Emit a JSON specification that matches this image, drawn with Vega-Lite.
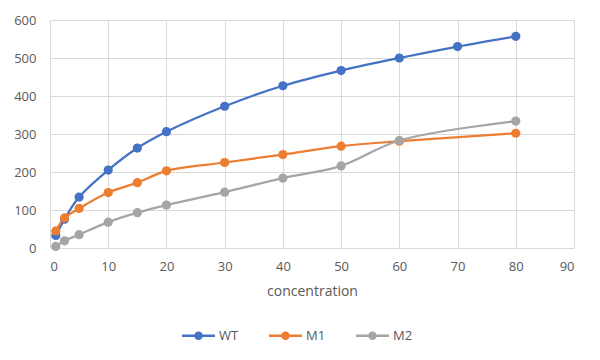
{
  "$schema": "https://vega.github.io/schema/vega-lite/v6.json",
  "width": 524,
  "height": 228,
  "autosize": {"type": "none"},
  "padding": {"left": 50, "top": 20, "right": 26, "bottom": 112},
  "background": "white",
  "config": {
    "view": {"stroke": null},
    "font": "Open Sans",
    "axis": {"labelFont": "Open Sans", "labelFontSize": 13, "labelColor": "#595959", "titleFont": "Open Sans", "titleFontSize": 14, "titleColor": "#595959", "titleFontWeight": "normal", "gridColor": "#D9D9D9", "gridWidth": 1, "domain": false, "ticks": false}
  },
  "data": {
    "values": [
      {"series": "WT", "conc": 1, "value": 33},
      {"series": "WT", "conc": 2.5, "value": 76},
      {"series": "WT", "conc": 5, "value": 134},
      {"series": "WT", "conc": 10, "value": 205},
      {"series": "WT", "conc": 15, "value": 263},
      {"series": "WT", "conc": 20, "value": 306},
      {"series": "WT", "conc": 30, "value": 373},
      {"series": "WT", "conc": 40, "value": 427},
      {"series": "WT", "conc": 50, "value": 467},
      {"series": "WT", "conc": 60, "value": 500},
      {"series": "WT", "conc": 70, "value": 530},
      {"series": "WT", "conc": 80, "value": 557},
      {"series": "M1", "conc": 1, "value": 45},
      {"series": "M1", "conc": 2.5, "value": 79},
      {"series": "M1", "conc": 5, "value": 104},
      {"series": "M1", "conc": 10, "value": 146},
      {"series": "M1", "conc": 15, "value": 172},
      {"series": "M1", "conc": 20, "value": 203},
      {"series": "M1", "conc": 30, "value": 225},
      {"series": "M1", "conc": 40, "value": 246},
      {"series": "M1", "conc": 50, "value": 268},
      {"series": "M1", "conc": 60, "value": 281},
      {"series": "M1", "conc": 80, "value": 302},
      {"series": "M2", "conc": 1, "value": 4},
      {"series": "M2", "conc": 2.5, "value": 19},
      {"series": "M2", "conc": 5, "value": 35},
      {"series": "M2", "conc": 10, "value": 68},
      {"series": "M2", "conc": 15, "value": 93},
      {"series": "M2", "conc": 20, "value": 113},
      {"series": "M2", "conc": 30, "value": 147},
      {"series": "M2", "conc": 40, "value": 184},
      {"series": "M2", "conc": 50, "value": 216},
      {"series": "M2", "conc": 60, "value": 283},
      {"series": "M2", "conc": 80, "value": 334}
    ]
  },
  "encoding": {
    "x": {"field": "conc", "type": "quantitative", "scale": {"domain": [0, 90], "nice": false}, "axis": {"values": [0,10,20,30,40,50,60,70,80,90], "title": "concentration", "labelPadding": 12, "titlePadding": 11}},
    "y": {"field": "value", "type": "quantitative", "scale": {"domain": [0, 600], "nice": false}, "axis": {"values": [0,100,200,300,400,500,600], "title": null, "labelPadding": 14}},
    "color": {"field": "series", "type": "nominal", "sort": ["WT", "M1", "M2"], "scale": {"domain": ["WT", "M1", "M2"], "range": ["#4472C4", "#ED7D31", "#A5A5A5"]},
      "legend": {"title": null, "orient": "none", "direction": "horizontal", "legendX": 132, "legendY": 299, "labelFont": "Open Sans", "labelFontSize": 13, "labelColor": "#595959", "columnPadding": 30, "labelOffset": 4, "symbolSize": 1089, "symbolStrokeWidth": 0, "symbolOpacity": 1, "symbolType": "M-1,-0.075L1,-0.075L1,0.075L-1,0.075Z M0.26,0A0.26,0.26,0,1,1,-0.26,0A0.26,0.26,0,1,1,0.26,0Z"}}
  },
  "layer": [
    {"mark": {"type": "line", "interpolate": "catmull-rom", "strokeWidth": 2.25}},
    {"mark": {"type": "point", "filled": true, "size": 85, "opacity": 1}}
  ]
}
